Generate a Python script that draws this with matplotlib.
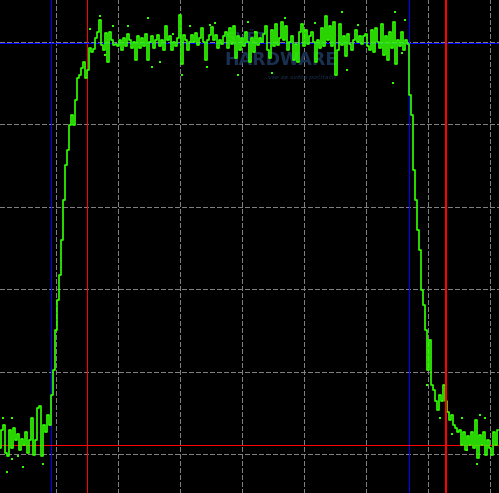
import numpy as np
import matplotlib
matplotlib.use("Agg")
import matplotlib.pyplot as plt

# trace level in dB, one sample per step across the screen (left -> right)
level = [
    -49.3, -47.1, -46.5, -49.8, -50.2, -47.1, -49.3, -46.8, -48.3, -47.5,
    -49.5, -48.1, -48.9, -47.3, -49.8, -48.3, -45.6, -50.1, -48.3, -44.4,
    -44.1, -50.2, -46.5, -47.3, -45.3, -46.5, -42.8, -39.8, -35.0, -31.3,
    -28.3, -24.1, -19.2, -15.0, -13.2, -10.1, -8.9, -10.1, -7.1, -4.4,
    -4.1, -3.2, -2.5, -4.4, -3.5, -0.8, -1.3, -0.9, 0.4, 1.2,
    2.6, -0.4, -1.0, 1.0, -2.5, 1.2, 0.2, -0.4, -0.3, -0.5,
    0.2, -1.0, 0.4, -0.5, 0.9, 0.2, -0.8, -0.1, -2.2, 0.7,
    -0.8, 0.4, -0.5, 0.9, -2.2, -0.1, 0.7, -0.8, 0.2, 0.8,
    -0.5, 0.2, -1.0, 1.9, 0.2, 0.7, -1.0, -0.1, -0.5, 0.4,
    3.2, -2.7, 0.8, 0.2, -1.0, -0.1, 0.8, -0.1, 1.0, -0.4,
    0.4, 1.6, -0.1, -2.2, 0.2, 0.8, 1.8, 0.2, 0.8, -0.8,
    0.2, -0.3, 0.7, 1.2, -0.8, 1.6, -0.3, 1.9, -2.0, 0.7,
    -1.0, 0.4, -0.5, 1.2, -0.1, -2.5, 0.4, -1.3, 1.2, -0.4,
    0.4, -0.1, 0.9, 1.9, -1.0, -2.0, 1.4, -0.5, 2.1, -0.4,
    0.4, 2.4, 0.2, 1.9, -1.0, -0.1, 0.7, -2.2, -0.3, -2.5,
    1.2, 2.1, -0.5, 1.4, -0.3, 0.7, 1.2, -0.1, -2.5, 0.2,
    -0.8, 1.6, -0.5, 3.1, 0.2, 1.9, -0.5, 2.4, -4.1, -1.0,
    2.1, -0.4, 0.7, -1.8, 0.9, -0.3, -1.0, 0.2, 1.4, -0.1,
    0.7, -0.3, 0.7, 0.9, -0.5, -1.0, 1.4, -1.3, 1.6, -0.1,
    -0.8, 2.1, -1.6, 0.7, -2.2, 1.2, -0.8, 2.4, -2.7, 0.2,
    -0.5, 1.2, -1.0, 0.2, -0.3, -6.5, -8.9, -15.6, -19.2, -22.8,
    -25.3, -30.1, -31.9, -35.0, -39.8, -36.2, -41.6, -42.2, -43.5, -44.7,
    -42.8, -43.5, -41.6, -43.5, -44.9, -45.9, -45.3, -46.5, -46.8, -47.3,
    -47.1, -48.9, -47.3, -49.5, -47.8, -48.9, -47.3, -49.3, -45.9, -50.5,
    -47.7, -48.9, -47.3, -50.1, -48.3, -49.3, -50.1, -47.3, -48.9, -47.1,
]

# isolated sample dots (frequency in divisions, dB)
dot_f = [0.71, 1.16, 1.48, 1.55, 1.68, 0.55, 0.92, 1.89, 2.16, 2.03, 0.79,
         2.48, 2.56, 3.10, 3.48, 2.44, 3.69, 2.94, 3.21,
         4.61, 5.47, 4.87, 4.18, 4.69, 5.44, 5.63, 5.58,
         -0.79, -0.53, -0.21, -0.85, -0.71, -0.71, -0.61,
         6.84, 6.79, 6.92, 6.63, 6.55, 6.19, 6.39, 5.98]
dot_db = [3.1, 1.9, 2.8, -3.1, -2.5, 1.5, 1.9, 0.9, 1.9, -4.1, -1.6,
          2.0, 2.2, 2.4, -3.8, -3.1, 2.8, -4.1, 1.2,
          3.6, 3.6, 2.0, 2.2, -3.5, -5.0, 2.6, -1.4,
          -52.2, -51.6, -51.2, -45.6, -45.6, -50.6, -50.2,
          -45.3, -51.2, -45.6, -49.5, -45.6, -45.6, -47.5, -41.6]

# marker / reference lines
marker_blue_f = [-0.08, 5.69]
marker_red_f = 0.5
marker_main_f = 6.29
ref_blue_db = -0.2
ref_red_db = -48.9

x_lo, x_hi = -0.903, 7.145
y_lo, y_hi = -54.7, 5.03
grid_f = np.arange(0, 8)
grid_db = np.arange(-50, 1, 10)

green = "#33ff00"
logo = "#1a3050"

fig = plt.figure(figsize=(4.99, 4.93), dpi=100, facecolor="black")
ax = fig.add_axes([0, 0, 1, 1])
ax.set_facecolor("black")
ax.set_xlim(x_lo, x_hi)
ax.set_ylim(y_lo, y_hi)
ax.axis("off")

for g in grid_f:
    ax.axvline(g, color="#808080", lw=0.6, dashes=(5, 2.5), antialiased=False, zorder=1)
for g in grid_db:
    ax.axhline(g, color="#808080", lw=0.6, dashes=(5, 2.5), antialiased=False, zorder=1)

# watermark logo
ax.text(2.74, 0.4, "SVĚT", color=logo, fontsize=10, fontweight="bold",
        ha="left", va="center", zorder=2)
ax.text(2.72, -2.2, "HARDWARE", color=logo, fontsize=12.5, fontweight="bold",
        ha="left", va="center", zorder=2)
ax.text(3.33, -4.3, "...vše ze světa počítačů", color=logo, fontsize=4.5,
        style="italic", ha="left", va="center", zorder=2)

# thin cursor lines, one pixel wide
for f in marker_blue_f:
    ax.axvline(f, color="#0000ff", lw=0.5, antialiased=False, zorder=3)
ax.axvline(marker_red_f, color="#ff0000", lw=0.5, antialiased=False, zorder=3)
ax.axhline(ref_blue_db, color="#0000ff", lw=0.5, antialiased=False, zorder=3)
ax.axhline(ref_red_db, color="#ff0000", lw=0.5, antialiased=False, zorder=3)

freq = np.linspace(-0.903, 7.13, len(level))
ax.plot(freq, level, color=green, lw=1.2, drawstyle="steps-mid", zorder=4)
ax.scatter(dot_f, dot_db, s=1.5, color=green, marker="s", linewidths=0, zorder=4)

ax.axvline(marker_main_f, color="#ff0000", lw=1.4, antialiased=False, zorder=5)

fig.savefig("out.png", dpi=100, facecolor="black")
